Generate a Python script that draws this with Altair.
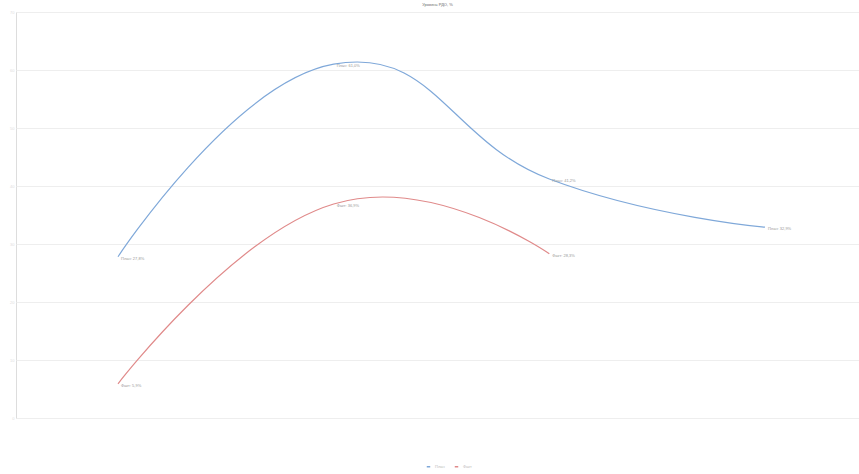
import altair as alt
import pandas as pd

# Series values (percent) for each period index
periods = [0, 1, 2, 3]
plan_values = [27.8, 61.0, 41.2, 32.9]
fact_periods = [0, 1, 2]
fact_values = [5.9, 36.9, 28.3]
series_names = ["План", "Факт"]
series_colors = ["#7fa8d9", "#e08a8a"]
y_ticks = [0, 10, 20, 30, 40, 50, 60, 70]

rows = []
for p, v in zip(periods, plan_values):
    rows.append({"period": p, "value": v, "series": series_names[0]})
for p, v in zip(fact_periods, fact_values):
    rows.append({"period": p, "value": v, "series": series_names[1]})
df = pd.DataFrame(rows)
df["label"] = df["series"] + ": " + df["value"].map(lambda v: f"{v:.1f}".replace(".", ",")) + "%"

x_enc = alt.X("period:Q", scale=alt.Scale(domain=[-0.473, 3.436], nice=False, zero=False), axis=None)
y_enc = alt.Y(
    "value:Q",
    scale=alt.Scale(domain=[0, 70], nice=False),
    axis=alt.Axis(
        values=y_ticks, title=None, labelFontSize=4, labelColor="#dddddd",
        gridColor="#eeeeee", gridWidth=1, domain=False, ticks=False, labelPadding=2,
    ),
)
color_enc = alt.Color(
    "series:N",
    scale=alt.Scale(domain=series_names, range=series_colors),
    legend=alt.Legend(
        title=None, orient="none", direction="horizontal", legendX=410, legendY=452,
        labelFontSize=4, labelColor="#bbbbbb", symbolSize=12, symbolType="stroke",
        symbolStrokeWidth=1.5, columnPadding=6,
    ),
)

# Smoothed lines with slightly long control arms
lines = alt.Chart(df).mark_line(interpolate="cardinal", tension=-0.4, strokeWidth=1.2).encode(
    x=x_enc, y=y_enc, color=color_enc, detail="series:N"
)

labels = alt.Chart(df).mark_text(align="left", baseline="middle", dx=3, dy=2, fontSize=4, color="#999999").encode(
    x=x_enc, y=alt.Y("value:Q"), text="label:N"
)

chart = (
    alt.layer(lines, labels)
    .properties(
        width=843,
        height=406,
        title=alt.TitleParams("Уровень РДО, %", fontSize=4, color="#666666", fontWeight="normal", offset=3),
        autosize=alt.AutoSizeParams(type="none"),
        padding={"left": 16, "top": 12, "right": 0, "bottom": 56},
    )
    .configure_view(stroke=None)
    .configure(background="white")
)

chart.save("out.html", embed_options={"renderer": "svg", "actions": False})
